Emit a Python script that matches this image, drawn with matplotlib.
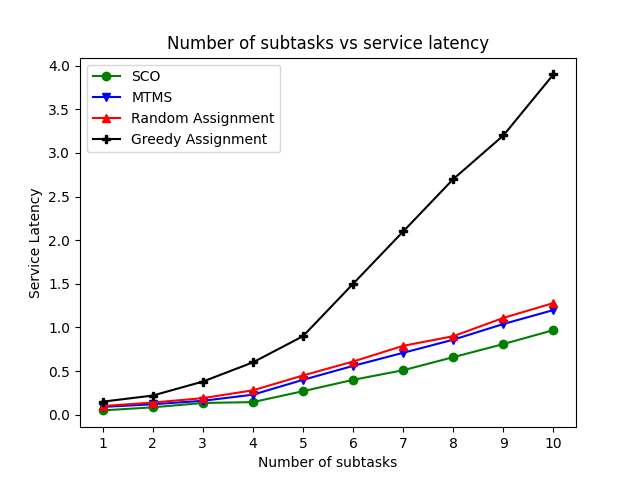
import matplotlib
matplotlib.use('Agg')
import matplotlib.pyplot as plt

subtasks = [1, 2, 3, 4, 5, 6, 7, 8, 9, 10]
sco = [0.05, 0.085, 0.135, 0.145, 0.27, 0.40, 0.51, 0.66, 0.81, 0.97]
mtms = [0.09, 0.12, 0.16, 0.23, 0.40, 0.56, 0.71, 0.86, 1.04, 1.20]
random_assign = [0.10, 0.14, 0.19, 0.28, 0.45, 0.61, 0.79, 0.90, 1.11, 1.28]
greedy = [0.15, 0.22, 0.38, 0.60, 0.90, 1.50, 2.10, 2.70, 3.20, 3.90]

plt.figure(figsize=(6.4, 4.8))
plt.plot(subtasks, sco, marker='o', color='green', label='SCO')
plt.plot(subtasks, mtms, marker='v', color='blue', label='MTMS')
plt.plot(subtasks, random_assign, marker='^', color='red', label='Random Assignment')
plt.plot(subtasks, greedy, marker='P', color='black', label='Greedy Assignment')
plt.title('Number of subtasks vs service latency')
plt.xlabel('Number of subtasks')
plt.ylabel('Service Latency')
plt.xticks(subtasks)
plt.legend(loc='upper left')
plt.savefig('out.png', dpi=100)
